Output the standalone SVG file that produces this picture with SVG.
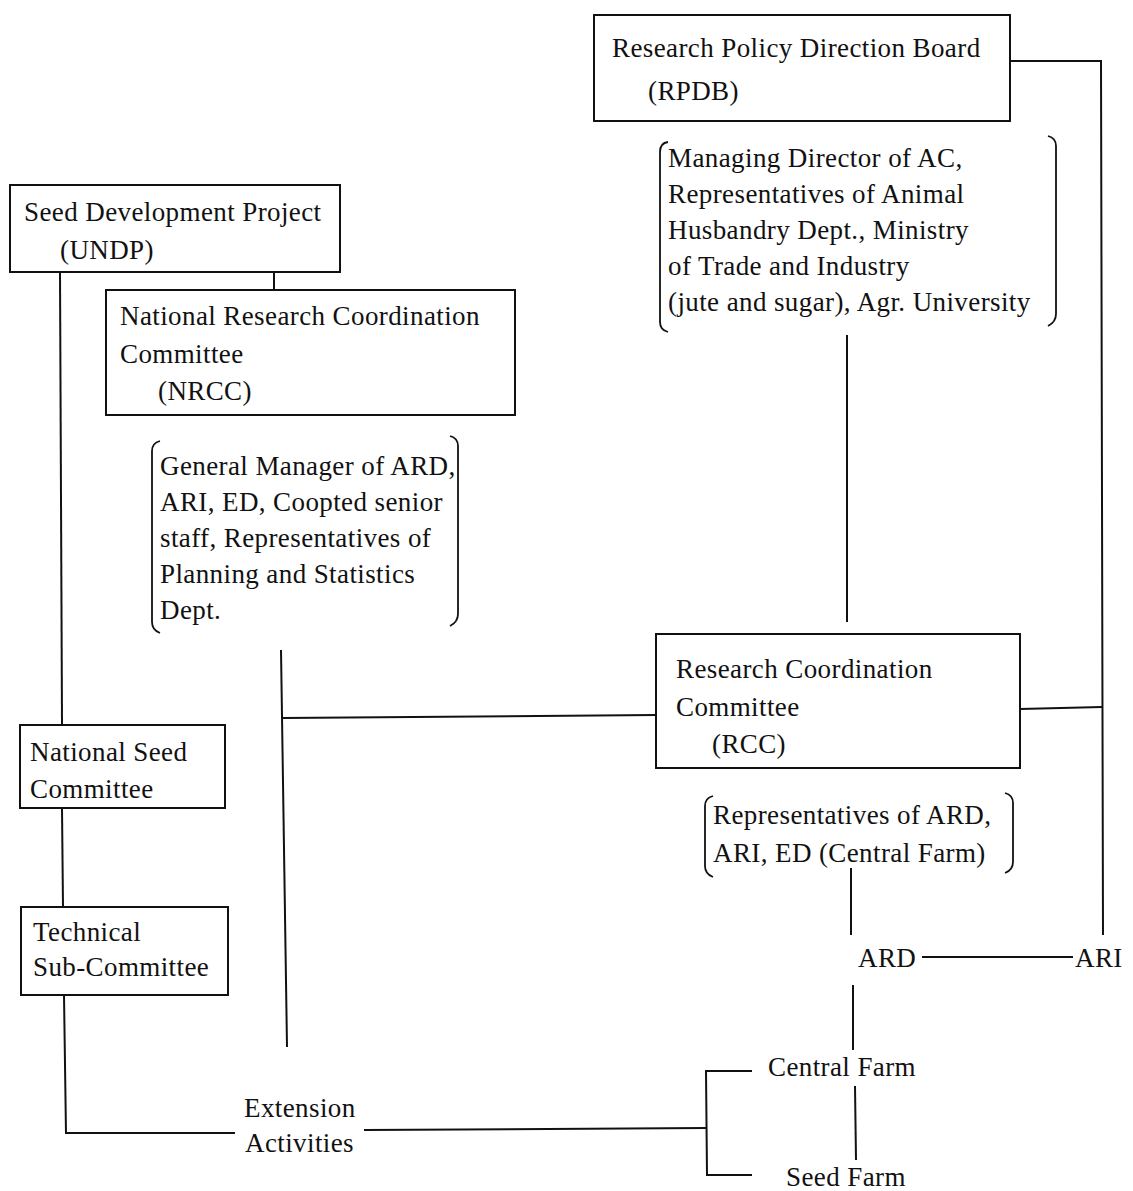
<svg xmlns="http://www.w3.org/2000/svg" width="1133" height="1191" viewBox="0 0 1133 1191">
  <style>
    .box { fill: #fff; stroke: #111; stroke-width: 2; }
    .ln { fill: none; stroke: #111; stroke-width: 2; }
    .br { fill: none; stroke: #111; stroke-width: 1.8; }
    text { font-family: "Liberation Serif", "DejaVu Serif", serif; font-size: 27px; letter-spacing: 0.4px; fill: #111; }
  </style>
  <rect width="1133" height="1191" fill="#fff"/>

  <!-- connectors -->
  <g id="connectors">
    <!-- RPDB to right spine -->
    <polyline class="ln" points="1010,61 1101,61 1103,935"/>
    <!-- RCC to right spine -->
    <line class="ln" x1="1020" y1="709" x2="1102" y2="707"/>
    <!-- RPDB members to RCC -->
    <line class="ln" x1="847" y1="335" x2="847" y2="622"/>
    <!-- UNDP to NRCC -->
    <line class="ln" x1="274" y1="272" x2="274" y2="290"/>
    <!-- UNDP to National Seed Committee -->
    <line class="ln" x1="60" y1="272" x2="62" y2="724"/>
    <!-- National Seed Committee to Technical Sub-Committee -->
    <line class="ln" x1="62" y1="808" x2="63" y2="907"/>
    <!-- Technical Sub-Committee to Extension Activities -->
    <polyline class="ln" points="64,995 66,1133 235,1133"/>
    <!-- NRCC members down to Extension Activities -->
    <line class="ln" x1="281" y1="650" x2="287" y2="1047"/>
    <!-- branch to RCC -->
    <line class="ln" x1="283" y1="718" x2="656" y2="715"/>
    <!-- Extension Activities to farms -->
    <line class="ln" x1="364" y1="1130" x2="706" y2="1128"/>
    <polyline class="ln" points="752,1071 706,1071 707,1175 752,1175"/>
    <!-- RCC members to ARD -->
    <line class="ln" x1="851" y1="868" x2="851" y2="935"/>
    <!-- ARD to ARI -->
    <line class="ln" x1="922" y1="957" x2="1073" y2="957"/>
    <!-- ARD to Central Farm -->
    <line class="ln" x1="853" y1="985" x2="853" y2="1050"/>
    <!-- Central Farm to Seed Farm -->
    <line class="ln" x1="855" y1="1086" x2="856" y2="1160"/>
  </g>

  <g id="rpdb">
    <rect class="box" x="594" y="15" width="416" height="106"/>
    <text x="612" y="57">Research Policy Direction Board</text>
    <text x="648" y="100">(RPDB)</text>
  </g>

  <g id="rpdb-members">
    <path class="br" d="M668,142 Q660,143 660,152 L660,322 Q660,330 668,332"/>
    <path class="br" d="M1048,136 Q1056,138 1056,146 L1056,314 Q1056,322 1048,326"/>
    <text x="668" y="167">Managing Director of AC,</text>
    <text x="668" y="203">Representatives of Animal</text>
    <text x="668" y="239">Husbandry Dept., Ministry</text>
    <text x="668" y="275">of Trade and Industry</text>
    <text x="668" y="311">(jute and sugar), Agr. University</text>
  </g>

  <g id="undp">
    <rect class="box" x="10" y="185" width="330" height="87"/>
    <text x="24" y="221">Seed Development Project</text>
    <text x="60" y="259">(UNDP)</text>
  </g>

  <g id="nrcc">
    <rect class="box" x="106" y="290" width="409" height="125"/>
    <text x="120" y="325">National Research Coordination</text>
    <text x="120" y="363">Committee</text>
    <text x="158" y="400">(NRCC)</text>
  </g>

  <g id="nrcc-members">
    <path class="br" d="M160,441 Q152,443 152,451 L152,622 Q152,630 160,633"/>
    <path class="br" d="M450,436 Q458,438 458,446 L458,614 Q458,622 450,626"/>
    <text x="160" y="475">General Manager of ARD,</text>
    <text x="160" y="511">ARI, ED, Coopted senior</text>
    <text x="160" y="547">staff, Representatives of</text>
    <text x="160" y="583">Planning and Statistics</text>
    <text x="160" y="619">Dept.</text>
  </g>

  <g id="rcc">
    <rect class="box" x="656" y="634" width="364" height="134"/>
    <text x="676" y="678">Research Coordination</text>
    <text x="676" y="716">Committee</text>
    <text x="712" y="753">(RCC)</text>
  </g>

  <g id="rcc-members">
    <path class="br" d="M713,796 Q705,798 705,806 L705,866 Q705,874 713,877"/>
    <path class="br" d="M1005,793 Q1013,795 1013,803 L1013,862 Q1013,870 1005,873"/>
    <text x="713" y="824">Representatives of ARD,</text>
    <text x="713" y="862">ARI, ED (Central Farm)</text>
  </g>

  <g id="national-seed-committee">
    <rect class="box" x="20" y="725" width="205" height="83"/>
    <text x="30" y="761">National Seed</text>
    <text x="30" y="798">Committee</text>
  </g>

  <g id="technical-sub-committee">
    <rect class="box" x="21" y="907" width="207" height="88"/>
    <text x="33" y="941">Technical</text>
    <text x="33" y="976">Sub-Committee</text>
  </g>

  <g id="extension-activities">
    <text x="244" y="1117">Extension</text>
    <text x="245" y="1152">Activities</text>
  </g>

  <g id="ard"><text x="858" y="967">ARD</text></g>
  <g id="ari"><text x="1075" y="967">ARI</text></g>
  <g id="central-farm"><text x="768" y="1076">Central Farm</text></g>
  <g id="seed-farm"><text x="786" y="1186">Seed Farm</text></g>
</svg>
